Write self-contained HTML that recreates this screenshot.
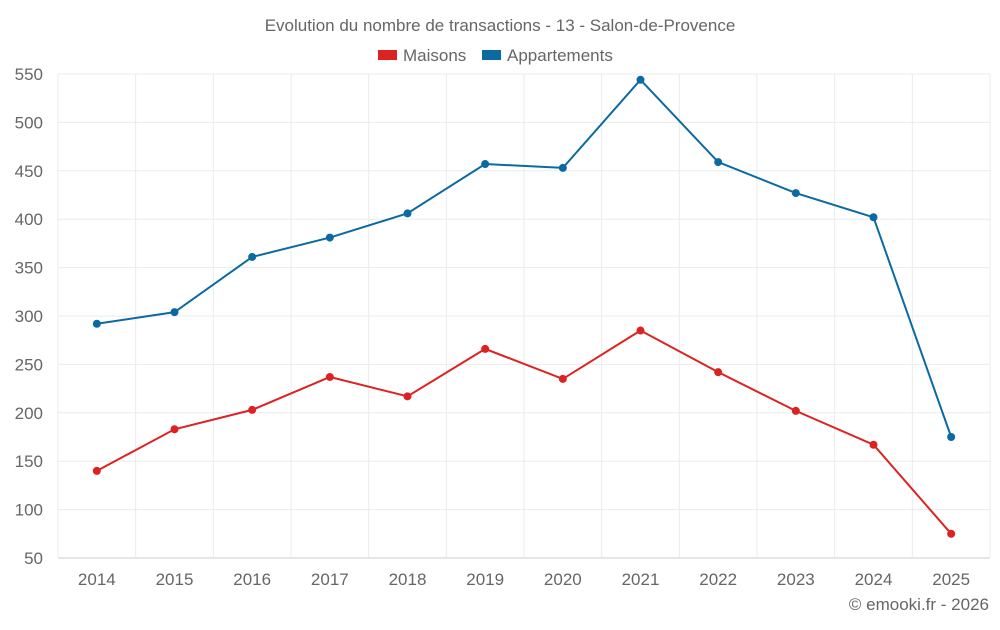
<!DOCTYPE html>
<html><head><meta charset="utf-8"><style>
body{margin:0;background:#fff;font-family:"Liberation Sans",sans-serif}
svg text{font-family:"Liberation Sans",sans-serif;fill:#666}
</style></head><body>
<svg id="chart" width="1000" height="625" xmlns="http://www.w3.org/2000/svg">
<text x="500" y="31" text-anchor="middle" font-size="17">Evolution du nombre de transactions - 13 - Salon-de-Provence</text>
<g>
<g><rect x="378" y="50" width="19" height="10" fill="#dd2222"/><text x="403" y="61" font-size="17">Maisons</text></g>
<g><rect x="482" y="50" width="19" height="10" fill="#0a6aa1"/><text x="507" y="61" font-size="17">Appartements</text></g>
</g>
<g id="grid"></g><g id="axes"></g><g id="series"></g>
<text x="989" y="610" text-anchor="end" font-size="17">© emooki.fr - 2026</text>
</svg>
<script>
const years=[2014,2015,2016,2017,2018,2019,2020,2021,2022,2023,2024,2025];
const maisons=[140,183,203,237,217,266,235,285,242,202,167,75];
const appartements=[292,304,361,381,406,457,453,544,459,427,402,175];
const yTicks=[50,100,150,200,250,300,350,400,450,500,550];
const NS="http://www.w3.org/2000/svg";
const L=58,R=990,T=74,B=558,yMin=50,yMax=550;
const step=(R-L)/years.length;
function x(i){return L+step*(i+0.5);}
function y(v){return B-(v-yMin)/(yMax-yMin)*(B-T);}
function mk(tag,attrs,parent){const e=document.createElementNS(NS,tag);for(const k in attrs)e.setAttribute(k,attrs[k]);parent.appendChild(e);return e;}
const grid=document.getElementById('grid'),axes=document.getElementById('axes'),series=document.getElementById('series');
yTicks.forEach(t=>{
 const ln=mk('line',{x1:L,x2:R,y1:y(t),y2:y(t),stroke:t===yMin?'#ccc':'#ebebeb'},grid);
 
 
 const tx=mk('text',{x:43,y:y(t)+6,'text-anchor':'end','font-size':'17'},axes);
 tx.textContent=t;
 
 
});
for(let i=0;i<=years.length;i++){
 const ln=mk('line',{x1:L+step*i,x2:L+step*i,y1:T,y2:B,stroke:'#ebebeb'},grid);
 
 
}
years.forEach((yr,i)=>{
 const tx=mk('text',{x:x(i),y:585,'text-anchor':'middle','font-size':'17'},axes);
 tx.textContent=yr;
 
 
});
function draw(vals,color,name){
 const g=mk('g',{},series);
 
 
 const p=mk('polyline',{points:vals.map((v,i)=>x(i)+','+y(v)).join(' '),fill:'none',stroke:color,'stroke-width':2},g);
 
 
 vals.forEach((v,i)=>{
  const c=mk('circle',{cx:x(i),cy:y(v),r:4,fill:color},g);
  
  
 });
}
draw(appartements,'#0a6aa1','appartements');
draw(maisons,'#dd2222','maisons');
</script>
</body></html>
